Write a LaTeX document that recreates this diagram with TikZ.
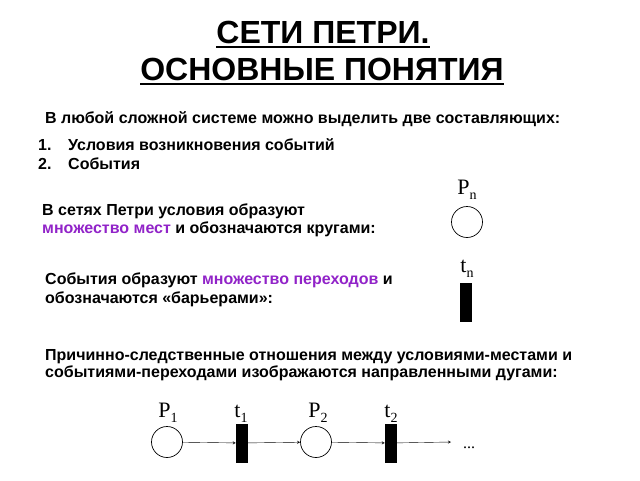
\documentclass[tikz,border=0pt]{standalone}
\usepackage{fontspec}
\setmainfont{Liberation Sans}
\newfontfamily\lbl{Liberation Serif}
\usepackage{color}
\definecolor{violet}{RGB}{145,35,200}
\newcommand{\sublbl}[2]{#1\raisebox{-5pt}{\fontsize{14}{14}\selectfont #2}}
\newcommand{\ttlline}[1]{\vtop{\hbox{#1}\kern2.6pt\hrule height 2.2pt}}

\begin{document}
\begin{tikzpicture}[x=1pt,y=-1pt,
    txt/.style={anchor=base west,inner sep=0pt,font=\fontsize{16}{18}\selectfont\bfseries},
    ttl/.style={anchor=base,inner sep=0pt,font=\fontsize{32}{34}\selectfont\bfseries},
    lab/.style={anchor=base,inner sep=0pt,font=\fontsize{22}{24}\selectfont\lbl},
    place/.style={draw,circle,minimum size=31pt,inner sep=0pt,line width=0.7pt},
    trans/.style={draw,fill=black,minimum width=11pt,minimum height=38pt,inner sep=0pt},
    >=stealth]
      \useasboundingbox (0,0) rectangle (640,480);

      \node[ttl] (T1) at (323, 43) {\ttlline{СЕТИ ПЕТРИ.}};
      \node[ttl] (T2) at (322, 80) {\ttlline{ОСНОВНЫЕ ПОНЯТИЯ}};

      \node[txt] (L0) at (45, 123) {В любой сложной системе можно выделить две составляющих:};
      \node[txt] (N1) at (38, 150) {1.};
      \node[txt] (L1) at (68, 150) {Условия возникновения событий};
      \node[txt] (N2) at (38, 169) {2.};
      \node[txt] (L2) at (68, 169) {События};

      \node[txt] (M1) at (42, 215) {В сетях Петри условия образуют};
      \node[txt] (M2) at (42, 233) {\textcolor{violet}{множество мест} и обозначаются кругами:};
      \node[txt] (E1) at (45, 284) {События образуют \textcolor{violet}{множество переходов} и};
      \node[txt] (E2) at (45, 303) {обозначаются «барьерами»:};
      \node[txt] (R1) at (45, 360) {Причинно-следственные отношения между условиями-местами и};
      \node[txt] (R2) at (45, 377) {событиями-переходами изображаются направленными дугами:};

      % legend
      \node[lab] (Pnl) at (467, 194) {\sublbl{P}{n}};
      \node[place] (Pn) at (467, 222) {};
      \node[lab] (tnl) at (467, 272) {\sublbl{t}{n}};
      \node[trans] (tn) at (466, 302) {};

      % chain
      \node[lab] (P1l) at (168, 417) {\sublbl{P}{1}};
      \node[place] (P1) at (167, 442) {};
      \node[trans] (t1) at (241.5, 443) {};
      \node[lab] (t1l) at (241, 417) {\sublbl{t}{1}};
      \node[place] (P2) at (316, 442) {};
      \node[lab] (P2l) at (318, 417) {\sublbl{P}{2}};
      \node[trans] (t2) at (390.5, 443) {};
      \node[lab] (t2l) at (391, 417) {\sublbl{t}{2}};
      \coordinate (end) at (451, 442);
      \node[lab,font=\fontsize{16}{18}\selectfont\lbl] (dots) at (469, 448) {...};

      \draw[->] (P1) to (t1);
      \draw[->] (t1) to (P2);
      \draw[->] (P2) to (t2);
      \draw[->] (t2) to (end);
    \end{tikzpicture}
\end{document}
